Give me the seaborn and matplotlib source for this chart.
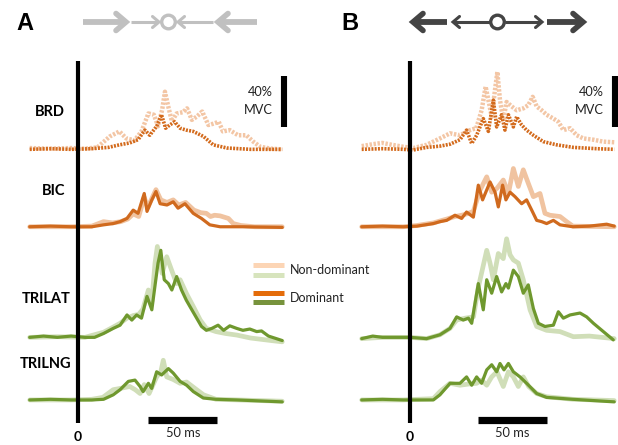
import numpy as np
import pandas as pd
import matplotlib
matplotlib.use("Agg")
import matplotlib.pyplot as plt
import seaborn as sns

# ---------------- data (%MVC vs time in ms) ----------------
muscles = ["BRD", "BIC", "TRILAT", "TRILNG"]

# Panel A
A_BRD_ND_t = [-35, -20, -5, 5, 14, 23, 30, 35, 41, 46, 51, 55, 58, 61, 63, 65.5, 68, 71.5, 76, 79, 82.5, 86, 90, 94.5, 98, 102, 105, 110, 116, 122, 127, 132, 140, 148]
A_BRD_ND_v = [1, 0.5, 1, 0.5, 1.5, 10, 14, 8.5, 7, 14, 28, 27, 18, 31, 45, 33, 22, 28, 29, 32, 23, 25.5, 29.5, 19, 20, 21.5, 14, 15, 11, 11, 6, 2, 0.5, 0]
A_BRD_D_t = [-35, -20, -5, 10, 22, 30, 37.5, 43.5, 48.5, 52, 57, 60.5, 63.5, 66.5, 70, 74, 78.5, 83.5, 91, 98, 108, 125, 148]
A_BRD_D_v = [0, 0.5, 0, 0.5, 1.5, 3.5, 5, 7.5, 15, 11, 18, 27, 16.5, 19, 21.5, 16.5, 15, 14, 10, 3.5, 1, 0, 0]

A_BIC_ND_t = [-35, -5, 10, 18.5, 25, 31, 36, 40, 44, 48, 50.5, 53.5, 56.5, 60, 64.5, 69, 73, 78, 84, 89, 93, 96, 99, 103, 109, 112.5, 118, 128, 148]
A_BIC_ND_v = [0, 0, 0.5, 4, 3, 4, 6, 10, 8, 23, 15, 22, 29, 21, 19, 21, 17, 19, 13, 11, 10.5, 8, 9, 8.5, 6.5, 2.5, 1, 0, 0]
A_BIC_D_t = [-35, -20, -5, 10, 18.5, 25.5, 30.5, 35.5, 40, 43.5, 48, 50, 53.5, 56.5, 59.5, 64.5, 69, 72.5, 77.5, 83.5, 89.5, 95.5, 103, 120, 148]
A_BIC_D_v = [0, 0.5, 0, 0, 1.5, 2.5, 4, 6.5, 13, 10.5, 26, 12, 21, 27.5, 18, 17, 19.5, 14.5, 18, 10.5, 6.5, 1.5, 0, 0, -0.5]

A_TRILAT_ND_t = [-35, -15, 5, 18.5, 25.5, 30.5, 35.5, 40, 44, 47, 51, 53.5, 55.8, 57.5, 61, 64.3, 68, 71.5, 74, 78.7, 83.6, 88.6, 93, 100, 107, 115, 125, 140, 148]
A_TRILAT_ND_v = [0, 0.5, 0, 4, 8, 11, 15, 17, 18, 22, 37, 28, 58, 71, 50, 63, 52, 42, 45, 34, 24, 13.5, 7, 4.5, 3, 1.8, -0.5, -2.5, -3.5]
A_TRILAT_D_t = [-35, -25, -15, -5, 5, 12, 18.5, 25.5, 30.5, 35.5, 39, 42.5, 46, 50, 53.5, 56, 58, 60, 62.5, 65.5, 68, 71.5, 75, 78.5, 82.5, 86, 89.5, 93, 97, 101.5, 105.5, 110, 115, 119.5, 124.5, 129.5, 133, 138, 148]
A_TRILAT_D_v = [0, 1, 0, 1, 0, 0, 3, 7, 9.5, 17.5, 13.5, 17.5, 15, 32, 21.5, 42, 58, 68, 45, 42, 37, 47.5, 37, 29, 21.5, 15, 8.5, 5.5, 7, 9.5, 5.5, 9, 7, 5.5, 6.5, 4.5, 5, 1, -2.5]

A_TRILNG_ND_t = [-35, -5, 10, 18, 25.5, 30.5, 37.5, 41.5, 45, 48, 51.5, 57, 60, 61.8, 64.3, 69, 74, 78.7, 86, 91, 100, 148]
A_TRILNG_ND_v = [0, 0, 0.5, 2, 8, 9, 10.5, 8, 5, 12, 5, 18, 22, 31, 18, 16, 13, 14, 8, 4, 0.5, -1]
A_TRILNG_D_t = [-35, -20, -5, 10, 18.5, 25.5, 30.5, 36.5, 41.3, 45, 47.2, 51, 53.4, 57, 60.6, 65.5, 69, 74, 78.7, 83.6, 90.8, 100, 115, 148]
A_TRILNG_D_v = [0, 0.5, 0, 0, 0.5, 4, 8, 14.5, 15.5, 10.5, 6.5, 13, 9, 22, 19.5, 24.5, 21, 14.5, 11.5, 6.5, 1.5, 0.5, 0, -1.5]

# Panel B
B_BRD_ND_t = [-35, -27, -20, -13, -5, 2.5, 12, 21.7, 29, 36.2, 43.5, 48, 51.9, 54.8, 56.8, 59.2, 61.6, 63.3, 65.2, 67.6, 70, 73.7, 77.3, 82.1, 85.7, 88.9, 91.8, 95.4, 99, 103.9, 107.5, 111.1, 116, 120.8, 125.6, 132.9, 140, 148]
B_BRD_ND_v = [2.5, 4, 5, 3.5, 2, 1, 3.5, 8.5, 12.5, 11, 15, 16.5, 30.5, 49, 38.5, 25.5, 46.5, 60.5, 38.5, 23, 37, 33.5, 30.5, 32, 34.5, 41, 33.5, 30.5, 27, 24, 21.5, 15, 16.5, 11, 8.5, 7.5, 6, 5.5]
B_BRD_D_t = [-35, -20, -5, 2.4, 12, 21.7, 29, 36.2, 41, 44.7, 48.3, 53.1, 56.8, 60.4, 62.8, 66.4, 68.8, 71.3, 74.9, 77.3, 80.9, 84.5, 89.4, 96.6, 106.3, 118.4, 135, 148]
B_BRD_D_v = [0, 0.5, 0, -0.5, 1.5, 2.5, 4, 7.5, 15, 4.5, 11, 24, 14, 38.5, 17.5, 27, 15, 27, 17.5, 25.5, 19, 15, 11, 6, 3.5, 1.5, 0.5, 0]

B_BIC_ND_t = [-35, -5, 5, 16.9, 21.7, 26.6, 32.6, 37.4, 41, 45.9, 50.7, 55.6, 59.2, 63, 67.6, 71.3, 74.9, 78.5, 82.1, 85.7, 89.4, 94.2, 97.8, 101.4, 108.7, 113.5, 118, 148]
B_BIC_ND_v = [0, 0, 1, 3, 4.5, 6, 8, 9, 10, 12, 28.5, 39, 27, 30, 36.5, 26, 45.5, 31.5, 44.5, 34, 23.5, 26, 10.5, 9, 8, 4, 0.5, 0]
B_BIC_D_t = [-35, -20, -5, 5, 16.9, 21.7, 26.6, 32.6, 37.4, 41, 45.9, 49.5, 52.6, 58, 61.6, 64, 67.1, 69.5, 72.5, 76.1, 80.9, 84.5, 88.2, 91.8, 95.4, 99, 103.9, 108.7, 118, 130, 142.5, 148]
B_BIC_D_v = [0, 0.5, 0, 0.5, 2.5, 4, 5, 9, 6.5, 11.5, 7.5, 32.5, 21, 35, 27, 15.5, 32.5, 21, 27, 23.5, 18, 21, 13, 5, 4, 2.5, 5, 1.5, 0, 0.5, 2, 0.5]

B_TRILAT_ND_t = [-35, -20, 0, 12, 21.7, 29, 33.8, 40, 46, 49.5, 55.6, 58, 60.4, 64, 67.6, 70, 72.5, 74.9, 78.5, 82.1, 87, 91.8, 99, 108.7, 118.4, 130, 148]
B_TRILAT_ND_v = [-1, 0, 0, -1, 2, 7, 13.5, 15, 16, 39, 68, 58, 45, 65.5, 61.5, 77, 64.5, 60.5, 58, 45, 21.5, 8.5, 5.5, 4.5, 0.5, 1, -1]
B_TRILAT_D_t = [-35, -27, -20, -10, 0, 12, 21.7, 29, 33.8, 38.6, 42.3, 44.7, 49.5, 53.1, 55.6, 59.2, 62.8, 66.4, 69.5, 71.3, 74.9, 78.5, 82.1, 85.7, 89.4, 93, 97.8, 103.9, 107.5, 111.1, 116, 123.2, 128, 132.9, 140.1, 147.3]
B_TRILAT_D_v = [-1, 1, 0, 0, 0, -1, 2, 7, 16, 13.5, 15, 11, 42, 21.5, 45, 34.5, 47.5, 35.5, 42, 38.5, 52.5, 47.5, 34.5, 41, 22.5, 11, 8.5, 9.5, 20, 15, 17.5, 19, 16, 11, 4.5, -2]

B_TRILNG_ND_t = [-35, -5, 5, 16.9, 21.7, 29, 36.2, 43, 48.3, 51.9, 55.6, 59.2, 63, 67.6, 71.3, 74.9, 78.5, 82.1, 86, 91.8, 99, 118, 148]
B_TRILNG_ND_v = [0, 0, 0.5, 1, 6.5, 13, 11.5, 12.5, 13, 15.5, 11.5, 18, 22, 10.5, 22, 18, 10.5, 18, 10.5, 5, 2.5, 0.5, -0.5]
B_TRILNG_D_t = [-35, -20, -5, 5, 16.9, 21.7, 29, 36.2, 41, 44.7, 48.3, 51.9, 55.6, 59.2, 62.8, 65.2, 68.1, 71.3, 74.9, 79.7, 84.5, 91.8, 99, 118, 148]
B_TRILNG_D_v = [0, 0.5, 0, 0, 0, 4, 13, 13, 18, 11.5, 18, 13, 23.5, 27.5, 22, 28.5, 23.5, 28.5, 22, 18, 13, 5, 2, 0.5, -1.5]

legend_labels = ["Non-dominant", "Dominant"]
time_scale_label = "50 ms"
amp_scale_label = ["40%", "MVC"]

# ---------------- layout / style ----------------
W, H = 618, 445
PX_MS = 1.38      # pixels per ms
PX_PCT = 1.28     # pixels per %MVC
offsets = {"BRD": 231.0, "BIC": 170.5, "TRILAT": 84.1, "TRILNG": 35.2}

C_ND = {"BRD": "#f3c6a5", "BIC": "#f0c3a0", "TRILAT": "#d0deb8", "TRILNG": "#d0deb8"}
C_D = {"BRD": "#d36a1c", "BIC": "#d06a1e", "TRILAT": "#6f982e", "TRILNG": "#6f982e"}

sns.set_theme(style="white")
plt.rcParams["font.family"] = ["Lato", "DejaVu Sans"]

fig = plt.figure(figsize=(W / 100, H / 100), dpi=100)
deco = fig.add_axes([0, 0, 1, 1])
deco.set_xlim(0, W)
deco.set_ylim(H, 0)
deco.axis("off")

axA = fig.add_axes([0, 0, 0.5, 1])
axB = fig.add_axes([0.5, 0, 0.5, 1])
zeros_px = {"A": 78, "B": 410}
for name, ax, x0, x1 in [("A", axA, 0, 309), ("B", axB, 309, 618)]:
    z = zeros_px[name]
    ax.set_xlim((x0 - z) / PX_MS, (x1 - z) / PX_MS)
    ax.set_ylim(0, H / PX_PCT)
    ax.axis("off")
    ax.patch.set_alpha(0)

g = globals()
for name, ax in [("A", axA), ("B", axB)]:
    for m in muscles:
        off = offsets[m]
        ls = (0, (0.55, 0.35)) if m == "BRD" else "-"
        for hand, col, lw in [("ND", C_ND[m], 3.4 if m != "BRD" else 3.2), ("D", C_D[m], 2.3 if m != "BRD" else 2.6)]:
            t = np.array(g[f"{name}_{m}_{hand}_t"], dtype=float)
            v = np.array(g[f"{name}_{m}_{hand}_v"], dtype=float)
            df = pd.DataFrame({"t": t, "y": v + off})
            sns.lineplot(data=df, x="t", y="y", ax=ax, color=col, linewidth=lw,
                         linestyle=ls, sort=False, estimator=None, legend=False,
                         solid_joinstyle="round", dash_joinstyle="round",
                         dash_capstyle="butt")
    # zero line
    ax.plot([0, 0], [(H - 423) / PX_PCT, (H - 61) / PX_PCT], color="black", lw=3.0,
            solid_capstyle="butt", clip_on=False)
    ax.text(0, (H - 437) / PX_PCT, "0", ha="center", va="center", fontsize=10,
            fontweight="bold", color="black")
    # time scale bar
    tb0 = 51 if name == "A" else 49
    ax.plot([tb0, tb0 + 50], [(H - 420) / PX_PCT] * 2, color="black", lw=5.2,
            solid_capstyle="butt", clip_on=False)
    ax.text(tb0 + 25, (H - 433) / PX_PCT, time_scale_label, ha="center", va="center",
            fontsize=9.3, color="#222222")
    # amplitude scale bar (40 %MVC)
    sx = 149.3 if name == "A" else 148.5
    ybot = (H - 127) / PX_PCT
    ax.plot([sx, sx], [ybot, ybot + 40], color="black", lw=4.4,
            solid_capstyle="butt", clip_on=False)
    tx = sx - 8
    ax.text(tx, (H - 92) / PX_PCT, amp_scale_label[0], ha="right", va="center",
            fontsize=9.2, color="#222222")
    ax.text(tx, (H - 110) / PX_PCT, amp_scale_label[1], ha="right", va="center",
            fontsize=9.2, color="#222222")

# muscle labels (panel A)
label_pos = {"BRD": (50, 112), "BIC": (54, 191), "TRILAT": (46, 299), "TRILNG": (46, 364)}
for m in muscles:
    px, py = label_pos[m]
    axA.text((px - 78) / PX_MS, (H - py) / PX_PCT, m, ha="center", va="center",
             fontsize=10.5, fontweight="bold", color="black")

# legend (custom swatches)
sw_x = [(253 - 78) / PX_MS, (284 - 78) / PX_MS]
for py, col in [(265, "#fcd5b5"), (275, "#d7e4bd"), (293, "#e46c0a"), (302, "#77933c")]:
    axA.plot(sw_x, [(H - py) / PX_PCT] * 2, color=col, lw=3.6, solid_capstyle="butt",
             clip_on=False)
axA.text((290 - 78) / PX_MS, (H - 270) / PX_PCT, legend_labels[0], ha="left", va="center",
         fontsize=9.0, color="#222222", clip_on=False)
axA.text((290 - 78) / PX_MS, (H - 298) / PX_PCT, legend_labels[1], ha="left", va="center",
         fontsize=9.0, color="#222222", clip_on=False)

# panel letters
for letter, px in [("A", 25), ("B", 350)]:
    deco.text(px, 23, letter, ha="center", va="center", fontsize=17, fontweight="bold",
              family=["Liberation Sans", "DejaVu Sans"], color="black")

# direction arrows
def chevron(ax, tip, direction, size, col, lw):
    x, y = tip
    dx = -size if direction > 0 else size
    ax.plot([x + dx, x, x + dx], [y - size * 0.85, y, y + size * 0.85], color=col, lw=lw,
            solid_capstyle="round", solid_joinstyle="miter")

def circle(ax, c, r, col, lw):
    ax.add_patch(plt.Circle((c, 22), r, facecolor="white", edgecolor=col, lw=lw, zorder=5))

ya = 22
ca = "#c0c0c0"
deco.plot([83, 124], [ya, ya], color=ca, lw=4.2, solid_capstyle="butt")
chevron(deco, (126, ya), +1, 10, ca, 4.0)
deco.plot([131, 158], [ya, ya], color=ca, lw=2.2, solid_capstyle="butt")
chevron(deco, (159, ya), +1, 6.5, ca, 2.2)
circle(deco, 168.5, 6.8, ca, 2.4)
chevron(deco, (178, ya), -1, 6.5, ca, 2.2)
deco.plot([178, 213], [ya, ya], color=ca, lw=2.2, solid_capstyle="butt")
chevron(deco, (218, ya), -1, 10, ca, 4.0)
deco.plot([220, 257], [ya, ya], color=ca, lw=4.2, solid_capstyle="butt")

cb = "#444444"
chevron(deco, (413, ya), -1, 10, cb, 4.0)
deco.plot([415, 447], [ya, ya], color=cb, lw=4.2, solid_capstyle="butt")
chevron(deco, (453, ya), -1, 6.5, cb, 2.2)
deco.plot([453, 490], [ya, ya], color=cb, lw=2.2, solid_capstyle="butt")
circle(deco, 497.5, 6.8, cb, 2.4)
deco.plot([505, 541], [ya, ya], color=cb, lw=2.2, solid_capstyle="butt")
chevron(deco, (542, ya), +1, 6.5, cb, 2.2)
deco.plot([547, 581], [ya, ya], color=cb, lw=4.2, solid_capstyle="butt")
chevron(deco, (583, ya), +1, 10, cb, 4.0)

fig.savefig("out.png", dpi=100)
